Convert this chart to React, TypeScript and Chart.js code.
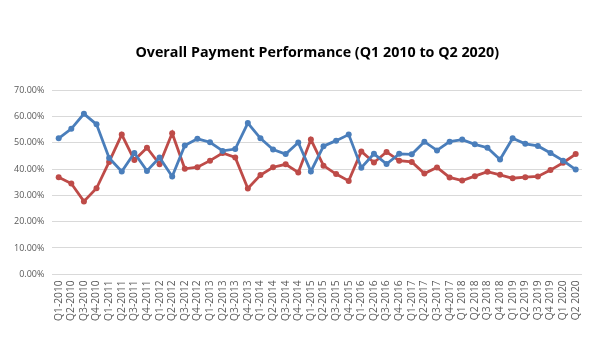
import React, { useEffect, useRef } from "react";
import { Chart, registerables } from "chart.js";

Chart.register(...registerables);

const categories = [
  "Q1-2010", "Q2-2010", "Q3-2010", "Q4-2010",
  "Q1-2011", "Q2-2011", "Q3-2011", "Q4-2011",
  "Q1-2012", "Q2-2012", "Q3-2012", "Q4-2012",
  "Q1-2013", "Q2-2013", "Q3-2013", "Q4-2013",
  "Q1-2014", "Q2-2014", "Q3-2014", "Q4-2014",
  "Q1-2015", "Q2-2015", "Q3-2015", "Q4-2015",
  "Q1-2016", "Q2-2016", "Q3-2016", "Q4-2016",
  "Q1-2017", "Q2-2017", "Q3-2017", "Q4-2017",
  "Q1 2018", "Q2 2018", "Q3 2018", "Q4 2018",
  "Q1 2019", "Q2 2019", "Q3 2019", "Q4 2019",
  "Q1 2020", "Q2 2020",
];

const blueSeries = [
  51.7, 55.3, 61.0, 57.0, 44.2, 39.1, 46.1, 39.3, 44.4, 37.2,
  49.0, 51.5, 50.2, 46.9, 47.6, 57.5, 51.7, 47.4, 45.7, 50.1,
  39.1, 48.7, 50.8, 53.1, 40.5, 45.8, 41.9, 45.8, 45.6, 50.4,
  47.1, 50.4, 51.2, 49.4, 48.1, 43.6, 51.7, 49.6, 48.8, 46.1,
  43.2, 39.8,
];

const redSeries = [
  36.9, 34.5, 27.7, 32.7, 42.7, 53.1, 43.4, 48.1, 41.8, 53.6,
  40.1, 40.7, 43.2, 46.1, 44.4, 32.6, 37.7, 40.7, 41.8, 38.7,
  51.2, 41.3, 38.1, 35.5, 46.7, 42.5, 46.5, 43.2, 42.7, 38.3,
  40.6, 36.8, 35.6, 37.3, 39.0, 37.8, 36.5, 36.9, 37.2, 39.6,
  42.4, 45.7,
];

const yTicks = [0, 10, 20, 30, 40, 50, 60, 70];

const titleText = "Overall Payment Performance (Q1 2010 to Q2 2020)";

export default function App() {
  const ref = useRef<HTMLCanvasElement | null>(null);

  useEffect(() => {
    document.body.style.margin = "0";
    if (!ref.current) return;
    const chart = new Chart(ref.current, {
      type: "line",
      data: {
        labels: categories,
        datasets: [
          {
            label: "Series 1",
            data: blueSeries,
            borderColor: "#4A7EBB",
            backgroundColor: "#4A7EBB",
            borderWidth: 2.8,
            pointRadius: 3,
            pointBorderWidth: 0,
            tension: 0,
          },
          {
            label: "Series 2",
            data: redSeries,
            borderColor: "#BE4B48",
            backgroundColor: "#BE4B48",
            borderWidth: 2.8,
            pointRadius: 3,
            pointBorderWidth: 0,
            tension: 0,
          },
        ],
      },
      options: {
        responsive: false,
        animation: false,
        layout: { padding: { left: 6, right: 18, top: 44, bottom: 33 } },
        plugins: {
          legend: { display: false },
          tooltip: { enabled: false },
          title: {
            display: true,
            text: titleText,
            fullSize: false,
            color: "#000000",
            font: { family: "'Open Sans', sans-serif", size: 14.3, weight: "bold" },
            padding: { top: 0, bottom: 29 },
          },
        },
        scales: {
          x: {
            offset: true,
            grid: { display: false, drawTicks: false },
            border: { display: false },
            ticks: {
              autoSkip: false,
              minRotation: 90,
              maxRotation: 90,
              color: "#595959",
              padding: 6,
              font: { family: "'Open Sans', sans-serif", size: 10.3 },
            },
          },
          y: {
            min: 0,
            max: 70,
            afterBuildTicks: (axis: any) => {
              axis.ticks = yTicks.map((v) => ({ value: v }));
            },
            grid: { color: "#D9D9D9", lineWidth: 1, drawTicks: false },
            border: { display: false },
            ticks: {
              color: "#595959",
              padding: 8,
              font: { family: "'Open Sans', sans-serif", size: 9 },
              callback: (v: any) => Number(v).toFixed(2) + "%",
            },
          },
        },
      },
    });
    return () => chart.destroy();
  }, []);

  return <canvas ref={ref} width={600} height={360} style={{ display: "block" }} />;
}
